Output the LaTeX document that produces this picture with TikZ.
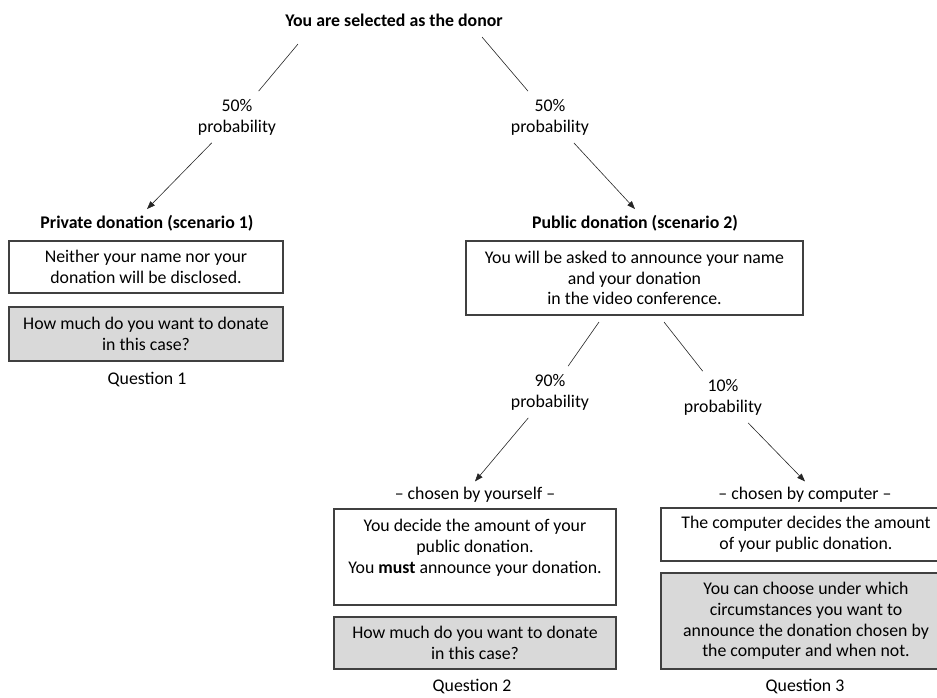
\documentclass[tikz,border=0pt]{standalone}
\usepackage{fontspec}
\setmainfont{Carlito}
\usetikzlibrary{arrows.meta,positioning}

\tikzset{
  txt/.style={inner sep=0pt, align=center, font=\fontsize{17.8}{20.8}\selectfont},
  head/.style={txt, font=\fontsize{17.8}{20.8}\selectfont\bfseries, outer sep=6pt},
  subhead/.style={txt, outer sep=6pt},
  prob/.style={txt, outer sep=8pt},
  infobox/.style={txt, draw=black!75, line width=1.1pt},
  askbox/.style={infobox, fill=black!15},
  branch/.style={line width=0.6pt, black!85},
  choice/.style={branch, -{Triangle[length=8pt, width=6pt]}},
}

\begin{document}
\begin{tikzpicture}[x=1pt, y=-1pt]
  \useasboundingbox (0,0) rectangle (937,697);
  \clip (0,0) rectangle (937,697);

  % Top of the tree
  \node[head] (donor) at (394,20) {You are selected as the donor};
  \node[prob] (pleft) at (237,117) {50\%\\probability};
  \node[prob] (pright) at (550,117) {50\%\\probability};

  % Scenario 1: private
  \node[head] (privh) at (147,223) {Private donation (scenario 1)};
  \node[infobox, minimum width=274, minimum height=52] (priv) at (146,267)
    {Neither your name nor your\\donation will be disclosed.};
  \node[askbox, minimum width=274, minimum height=54] (qone) at (146,334)
    {How much do you want to donate\\in this case?};
  \node[txt] (qonel) at (147,380) {Question 1};

  % Scenario 2: public
  \node[head] (pubh) at (635,223) {Public donation (scenario 2)};
  \node[infobox, minimum width=337, minimum height=74] (pub) at (634.5,278)
    {You will be asked to announce your name\\and your donation\\in the video conference.};
  \node[prob] (pself) at (550,392) {90\%\\probability};
  \node[prob] (pcomp) at (723,397) {10\%\\probability};

  % 90%: chosen by yourself
  \node[subhead] (selfh) at (475,495) {-- chosen by yourself --};
  \node[infobox, minimum width=282, minimum height=96] (self) at (475,557)
    {You decide the amount of your\\public donation.\\You \textbf{must} announce your donation.\\~};
  \node[askbox, minimum width=282, minimum height=52] (qtwo) at (475,643)
    {How much do you want to donate\\in this case?};
  \node[txt] (qtwol) at (472,687) {Question 2};

  % 10%: chosen by computer
  \node[subhead] (comph) at (805,495) {-- chosen by computer --};
  \node[infobox, minimum width=290, minimum height=53] (comp) at (806,534.5)
    {The computer decides the amount\\of your public donation.};
  \node[askbox, minimum width=290, minimum height=96] (qthree) at (806,621)
    {You can choose under which\\circumstances you want to\\announce the donation chosen by\\the computer and when not.};
  \node[txt] (qthreel) at (805,687) {Question 3};

  % Branch starts
  \coordinate (sleft) at (298,44);
  \coordinate (sright) at (482,37);
  \coordinate (sself) at (599,322);
  \coordinate (scomp) at (664,322);

  % Connectors
  \draw[branch] (sleft) -- (pleft);
  \draw[choice] (pleft) -- (privh.north);
  \draw[branch] (sright) -- (pright);
  \draw[choice] (pright) -- (pubh.north);
  \draw[branch] (sself) -- (pself);
  \draw[choice] (pself) -- (selfh.north);
  \draw[branch] (scomp) -- (pcomp);
  \draw[choice] (pcomp) -- (comph.north);
\end{tikzpicture}
\end{document}
